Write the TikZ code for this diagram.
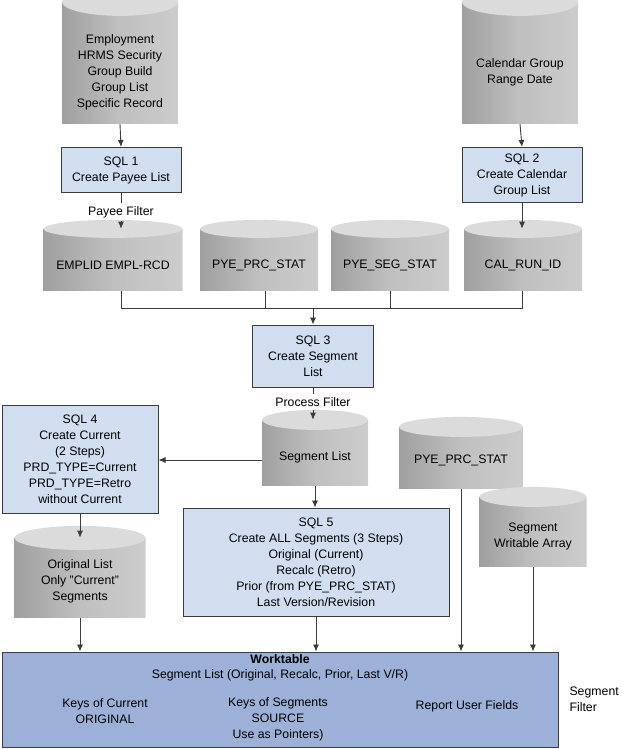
\documentclass[tikz,border=0pt]{standalone}
\usepackage{fontspec}
\setmainfont{Liberation Sans}
\usetikzlibrary{shapes.geometric,arrows.meta,calc}
\definecolor{boxblue}{RGB}{208,222,240}
\definecolor{workblue}{RGB}{156,176,216}
\definecolor{edge}{RGB}{60,60,60}
\begin{document}
\begin{tikzpicture}[x=1pt,y=-1pt,
  every node/.style={font=\fontsize{12.3}{16}\selectfont, align=center, text=black},
  box/.style={draw=edge, line width=1pt, fill=boxblue, inner sep=0pt},
  db/.style={cylinder, shape border rotate=90, aspect=0.25, inner sep=0pt,
     left color=gray!75, right color=gray!40, middle color=gray!50, draw=none},
  arr/.style={-{Latex[length=7pt,width=6pt]}, line width=0.9pt, draw=edge},
  ln/.style={line width=0.9pt, draw=edge}]
\useasboundingbox (0,0) rectangle (622,749);
\newcommand{\dbtop}[3]{% name, width, ry
  \fill[gray!28] ($(#1.before top)!0.5!(#1.after top)$) ellipse ({#2/2} and #3);}
% top cylinders
\node[db, minimum width=116, minimum height=122] (emp) at (120,63) {};
\dbtop{emp}{116}{14}
\node at (120,72) {Employment\\HRMS Security\\Group Build\\Group List\\Specific Record};
\node[db, minimum width=116, minimum height=122] (cal) at (520,63) {};
\dbtop{cal}{116}{14}
\node at (520,72) {Calendar Group\\Range Date};
\node[box, minimum width=120, minimum height=45] (sql1) at (121,170) {SQL 1\\Create Payee List};
\node[box, minimum width=120, minimum height=55] (sql2) at (522,175) {SQL 2\\Create Calendar\\Group List};
\draw[arr] (emp.bottom) -- (sql1.north);
\draw[arr] (cal.bottom) -- (sql2.north);
% row of cylinders
\node[db, minimum width=139, minimum height=62] (c1) at (113,260) {};
\node[db, minimum width=118, minimum height=62] (c2) at (259,260) {};
\node[db, minimum width=118, minimum height=62] (c3) at (390,260) {};
\node[db, minimum width=118, minimum height=62] (c4) at (523,260) {};
\dbtop{c1}{139}{9}\dbtop{c2}{118}{9}\dbtop{c3}{118}{9}\dbtop{c4}{118}{9}
\node at (113,265) {EMPLID EMPL-RCD};
\node at (259,265) {PYE\_PRC\_STAT};
\node at (390,265) {PYE\_SEG\_STAT};
\node at (523,265) {CAL\_RUN\_ID};
\node (pf) at (121,212) {Payee Filter};
\draw[ln] (sql1.south) -- (pf.north);
\draw[arr] (pf.south) -- (pf.south |- c1.top);
\draw[arr] (sql2.south) -- (sql2.south |- c4.top);
\coordinate (bus) at (313,308);
\draw[ln] (121,291) |- (522,308) -- (522,291);
\draw[ln] (265,291) -- (265,308);
\draw[ln] (390,291) -- (390,308);
\node[box, minimum width=121, minimum height=62] (sql3) at (313,356) {SQL 3\\Create Segment\\List};
\draw[arr] (bus) -- (sql3.north);
\node (prf) at (313,402) {Process Filter};
\draw[ln] (sql3.south) -- (prf.north);
\node[db, minimum width=106, minimum height=66] (seg) at (315,453) {};
\dbtop{seg}{106}{10}
\node at (315,457) {Segment List};
\draw[arr] (prf.south) -- (prf.south |- seg.top);
\node[box, minimum width=156, minimum height=108] (sql4) at (80,459) {SQL 4\\Create Current\\(2 Steps)\\PRD\_TYPE=Current\\PRD\_TYPE=Retro\\without Current};
\draw[arr] (seg.west |- 0,460) -- (sql4.east |- 0,460);
\node[db, minimum width=124, minimum height=62] (pps) at (461,458) {};
\dbtop{pps}{124}{10}
\node at (461,460) {PYE\_PRC\_STAT};
\node[db, minimum width=107, minimum height=70] (swa) at (533,532) {};
\dbtop{swa}{107}{10}
\node at (533,536) {Segment\\Writable Array};
\node[db, minimum width=131, minimum height=80] (orig) at (80,578) {};
\dbtop{orig}{131}{12}
\node at (80,581) {Original List\\Only "Current"\\Segments};
\draw[arr] (sql4.south) -- (orig.top);
\node[box, minimum width=266, minimum height=108] (sql5) at (316,562) {SQL 5\\Create ALL Segments (3 Steps)\\Original (Current)\\Recalc (Retro)\\Prior (from PYE\_PRC\_STAT)\\Last Version/Revision};
\draw[arr] (seg.bottom) -- (seg.bottom |- sql5.north);
\node[draw=edge, line width=1pt, fill=workblue, minimum width=556, minimum height=95, inner sep=0pt] (wt) at (280,699.5) {};
\node at (280,659) {\textbf{Worktable}};
\node at (280,675) {Segment List (Original, Recalc, Prior, Last V/R)};
\node at (105,711) {Keys of Current\\ORIGINAL};
\node at (278,719) {Keys of Segments\\SOURCE\\Use as Pointers)};
\node at (467,706) {Report User Fields};
\node[align=left, anchor=west] at (566,699) {Segment\\Filter};
\draw[arr] (orig.bottom) -- (orig.bottom |- wt.north);
\draw[arr] (sql5.south) -- (sql5.south |- wt.north);
\draw[arr] (pps.bottom) -- (pps.bottom |- wt.north);
\draw[arr] (swa.bottom) -- (swa.bottom |- wt.north);
\end{tikzpicture}
\end{document}
